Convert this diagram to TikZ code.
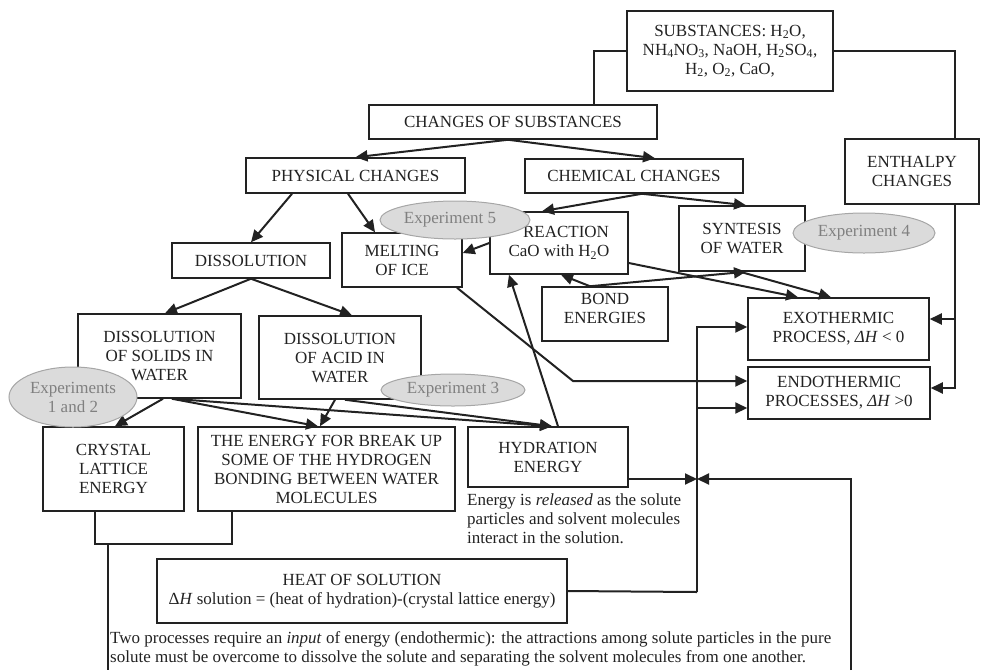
\documentclass[tikz,border=0pt]{standalone}
\usepackage{fontspec}
\setmainfont{Liberation Serif}
\usetikzlibrary{arrows.meta,shapes.geometric}
\newcommand\mainfs{\fontsize{17}{19}\selectfont}
\definecolor{ink}{HTML}{222222}
\begin{document}
\begin{tikzpicture}[x=1pt,y=-1pt,
  box/.style={draw=ink, line width=1.5pt, rectangle, align=center, inner sep=1pt, font=\mainfs, text=ink},
  conn/.style={draw=ink, line width=2pt},
  arr/.style={draw=ink, line width=2pt, -{Triangle[length=12pt,width=11pt]}},
  expl/.style={ellipse, draw=black!35, fill=black!14, text=black!50, line width=1pt, inner sep=0pt, align=center, font=\mainfs},
  note/.style={align=left, inner sep=0pt, font=\mainfs, text=ink}]
\useasboundingbox (0,0) rectangle (982,670);
% boxes
\node[box, minimum width=206pt, minimum height=80pt] (subs) at (730,51) {SUBSTANCES: H\textsubscript{2}O,\\ NH\textsubscript{4}NO\textsubscript{3}, NaOH, H\textsubscript{2}SO\textsubscript{4},\\ H\textsubscript{2}, O\textsubscript{2}, CaO,};
\node[box, minimum width=288pt, minimum height=34pt] (changes) at (513,122) {CHANGES OF SUBSTANCES};
\node[box, minimum width=219pt, minimum height=35pt] (phys) at (355.5,175.5) {PHYSICAL CHANGES};
\node[box, minimum width=218pt, minimum height=34pt] (chem) at (634,176) {CHEMICAL CHANGES};
\node[box, minimum width=134pt, minimum height=65pt] (enth) at (912,171.5) {ENTHALPY\\ CHANGES};
\node[box, minimum width=158pt, minimum height=35pt] (diss) at (251,260.5) {DISSOLUTION};
\node[box, minimum width=120pt, minimum height=54pt] (melt) at (402,260) {MELTING\\ OF ICE};
\node[box, minimum width=138pt, minimum height=62pt] (react) at (559,243) {\hspace*{14pt}REACTION\\ CaO with H\textsubscript{2}O};
\node[box, minimum width=126pt, minimum height=65pt] (synt) at (742,238.5) {SYNTESIS\\ OF WATER};
\node[box, minimum width=126pt, minimum height=54pt,
  label={[yshift=6pt, align=center, font=\mainfs, text=ink]center:BOND\\ ENERGIES}] (bond) at (605,314) {};
\node[box, minimum width=181pt, minimum height=62pt] (exo) at (838.5,329) {EXOTHERMIC\\ PROCESS, \textit{ΔH} < 0};
\node[box, minimum width=182pt, minimum height=52pt] (endo) at (839,393) {ENDOTHERMIC\\ PROCESSES, \textit{ΔH} >0};
\node[box, minimum width=163pt, minimum height=84pt] (solids) at (159.5,356) {DISSOLUTION\\ OF SOLIDS IN\\ WATER};
\node[box, minimum width=162pt, minimum height=83pt] (acid) at (340,357.5) {DISSOLUTION\\ OF ACID IN\\ WATER};
\node[box, minimum width=141pt, minimum height=84pt] (crystal) at (113.5,469) {CRYSTAL\\ LATTICE\\ ENERGY};
\node[box, minimum width=257pt, minimum height=84pt] (energy) at (326.5,469) {THE ENERGY FOR BREAK UP\\ SOME OF THE HYDROGEN\\ BONDING BETWEEN WATER\\ MOLECULES};
\node[box, minimum width=160pt, minimum height=60pt] (hydr) at (548,457) {HYDRATION\\ ENERGY};
\node[box, minimum width=410pt, minimum height=64pt] (heat) at (362,591) {HEAT OF SOLUTION\\ Δ\textit{H} solution = (heat of hydration)-(crystal lattice energy)};
% notes
\node[note, anchor=west] (relnote) at (467,519) {Energy is \textit{released} as the solute\\ particles and solvent molecules\\ interact in the solution.};
\node[note, anchor=west] (endnote) at (110,649) {Two processes require an \textit{input} of energy (endothermic): the attractions among solute particles in the pure\\ solute must be overcome to dissolve the solute and separating the solvent molecules from one another.};
% coordinates
\coordinate (mbend) at (573,381);
\coordinate (j1) at (697,479);
\coordinate (j2) at (697,592);
\coordinate (rb) at (851,670);
\coordinate (bk) at (108,543);
\coordinate (lb) at (108,670);
% plain connectors
\draw[conn] ([xshift=81pt]changes.north) |- (subs.west);
\draw[conn] (subs.east) -| ([xshift=43pt]enth.north);
\draw[conn] ([xshift=-18.5pt]crystal.south) -- ++(0,32) -| ([xshift=-94.5pt]energy.south);
\draw[conn] (bk) -- (lb);
% arrows
\draw[arr] ([xshift=43pt]enth.south) |- ([yshift=10pt]exo.east);
\draw[arr] ([xshift=43pt]enth.south) |- ([yshift=5pt]endo.east);
\draw[arr] ([xshift=-5pt]changes.south) -- (phys.north);
\draw[arr] ([xshift=-5pt]changes.south) -- ([xshift=21pt]chem.north);
\draw[arr] ([xshift=-63.5pt]phys.south) -- (diss.north);
\draw[arr] ([xshift=-7.5pt]phys.south) -- ([xshift=-27pt]melt.north);
\draw[arr] ([xshift=8pt]chem.south) -- ([xshift=-17pt]react.north);
\draw[arr] ([xshift=8pt]chem.south) -- ([xshift=4pt]synt.north);
\draw[arr] (react.west) -- ([yshift=7pt]melt.east);
\draw[arr] ([xshift=-15pt]bond.north) -- ([xshift=2pt]react.south);
\draw[arr] ([xshift=-15pt]bond.north) -- ([xshift=4pt]synt.south);
\draw[arr] ([yshift=-20pt]react.east) -- ([xshift=-40.5pt]exo.north);
\draw[arr] ([xshift=-2pt]synt.south) -- ([xshift=-7.5pt]exo.north);
\draw[arr] ([xshift=10pt]hydr.north) -- ([xshift=-50pt]react.south);
\draw[arr] ([xshift=55pt]melt.south) -- (mbend) -- ([yshift=12pt]endo.west);
\draw[arr] (diss.south) -- ([xshift=5.5pt]solids.north);
\draw[arr] (diss.south) -- ([xshift=12pt]acid.north);
\draw[arr] ([xshift=3.5pt]solids.south) -- ([xshift=1.5pt]crystal.north);
\draw[arr] ([xshift=12.5pt]solids.south) -- ([xshift=-8.5pt]energy.north);
\draw[arr] ([xshift=12.5pt]solids.south) -- ([xshift=4pt]hydr.north);
\draw[arr] ([xshift=-5pt]acid.south) -- ([xshift=-6.5pt]energy.north);
\draw[arr] ([xshift=5pt]acid.south) -- ([xshift=4pt]hydr.north);
\draw[arr] ([yshift=-22pt]hydr.east) -- (j1);
\draw[arr] (rb) |- (j1);
\draw[conn] (heat.east) -- (j2);
\draw[arr] (j2) |- ([yshift=2pt]exo.west);
\draw[arr] (j2) |- ([yshift=-15pt]endo.west);
% experiment ellipses
\node[expl, minimum width=128pt, minimum height=60pt] (e12) at (73,397) {Experiments\\ 1 and 2};
\node[expl, minimum width=144pt, minimum height=32pt] (e3) at (453,390) {Experiment 3};
\node[expl, minimum width=150pt, minimum height=38pt] (e5) at (455,220) {\hspace*{-10pt}Experiment 5};
\node[expl, minimum width=142pt, minimum height=40pt] (e4) at (864,233) {Experiment 4};
\end{tikzpicture}
\end{document}
